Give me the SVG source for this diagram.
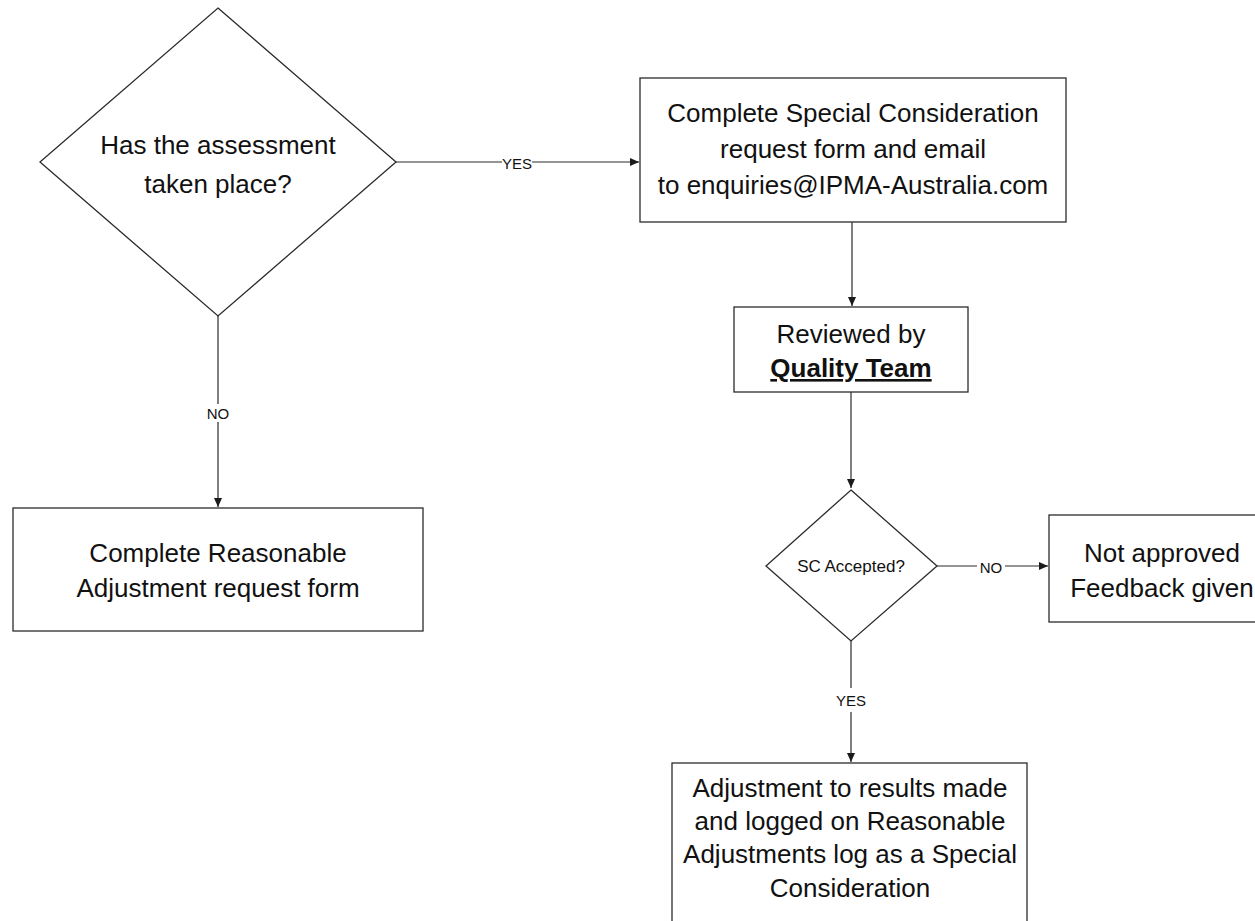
<svg xmlns="http://www.w3.org/2000/svg" width="1255" height="921" viewBox="0 0 1255 921">
<defs>
<marker id="arr" markerWidth="10" markerHeight="8" refX="9" refY="4" orient="auto" markerUnits="userSpaceOnUse">
<path d="M0,0 L9,4 L0,8 Z" fill="#1a1a1a"/>
</marker>
<style>
.shape{fill:#fff;stroke:#2b2b2b;stroke-width:1.3}
.t{font-family:"Liberation Sans",Arial,sans-serif;font-size:26px;fill:#111;text-anchor:middle}
.lbl{font-family:"Liberation Sans",Arial,sans-serif;font-size:15px;fill:#111;text-anchor:middle;dominant-baseline:central}
.sc{font-size:17px}
.edge{stroke:#2b2b2b;stroke-width:1.2;fill:none;marker-end:url(#arr)}
.bg{fill:#fff}
</style>
</defs>
<rect width="1255" height="921" fill="#fff"/>
<g id="connectors">
<line class="edge" x1="396" y1="162" x2="639" y2="162"/>
<rect class="bg" x="502" y="152" width="30" height="20"/>
<text class="lbl" x="517" y="163">YES</text>
<line class="edge" x1="218" y1="316" x2="218" y2="507"/>
<rect class="bg" x="204" y="404" width="28" height="18"/>
<text class="lbl" x="218" y="413">NO</text>
<line class="edge" x1="852" y1="222" x2="852" y2="306"/>
<line class="edge" x1="851" y1="392" x2="851" y2="488"/>
<line class="edge" x1="937" y1="566" x2="1048" y2="566"/>
<rect class="bg" x="977" y="556" width="28" height="20"/>
<text class="lbl" x="991" y="567">NO</text>
<line class="edge" x1="851" y1="641" x2="851" y2="762"/>
<rect class="bg" x="836" y="688" width="30" height="24"/>
<text class="lbl" x="851" y="700">YES</text>
</g>
<g id="decision1">
<polygon class="shape" points="218,8 396,162 218,316 40,162"/>
<text class="t" x="218" y="154">Has the assessment</text>
<text class="t" x="218" y="193">taken place?</text>
</g>
<g id="specialConsideration">
<rect class="shape" x="640" y="78" width="426" height="144"/>
<text class="t" x="853" y="122">Complete Special Consideration</text>
<text class="t" x="853" y="158">request form and email</text>
<text class="t" x="853" y="194">to enquiries@IPMA-Australia.com</text>
</g>
<g id="reasonableAdjustment">
<rect class="shape" x="13" y="508" width="410" height="123"/>
<text class="t" x="218" y="562">Complete Reasonable</text>
<text class="t" x="218" y="597">Adjustment request form</text>
</g>
<g id="reviewed">
<rect class="shape" x="734" y="307" width="234" height="85"/>
<text class="t" x="851" y="343">Reviewed by</text>
<text class="t" x="851" y="377" font-weight="bold" text-decoration="underline">Quality Team</text>
</g>
<g id="decision2">
<polygon class="shape" points="851,490 937,566 851,641 766,566"/>
<text class="lbl sc" x="851" y="566">SC Accepted?</text>
</g>
<g id="notApproved">
<rect class="shape" x="1049" y="515" width="226" height="107"/>
<text class="t" x="1162" y="562">Not approved</text>
<text class="t" x="1162" y="597">Feedback given</text>
</g>
<g id="adjustmentMade">
<rect class="shape" x="672" y="763" width="355" height="180"/>
<text class="t" x="850" y="797">Adjustment to results made</text>
<text class="t" x="850" y="830">and logged on Reasonable</text>
<text class="t" x="850" y="863">Adjustments log as a Special</text>
<text class="t" x="850" y="897">Consideration</text>
</g>
</svg>
